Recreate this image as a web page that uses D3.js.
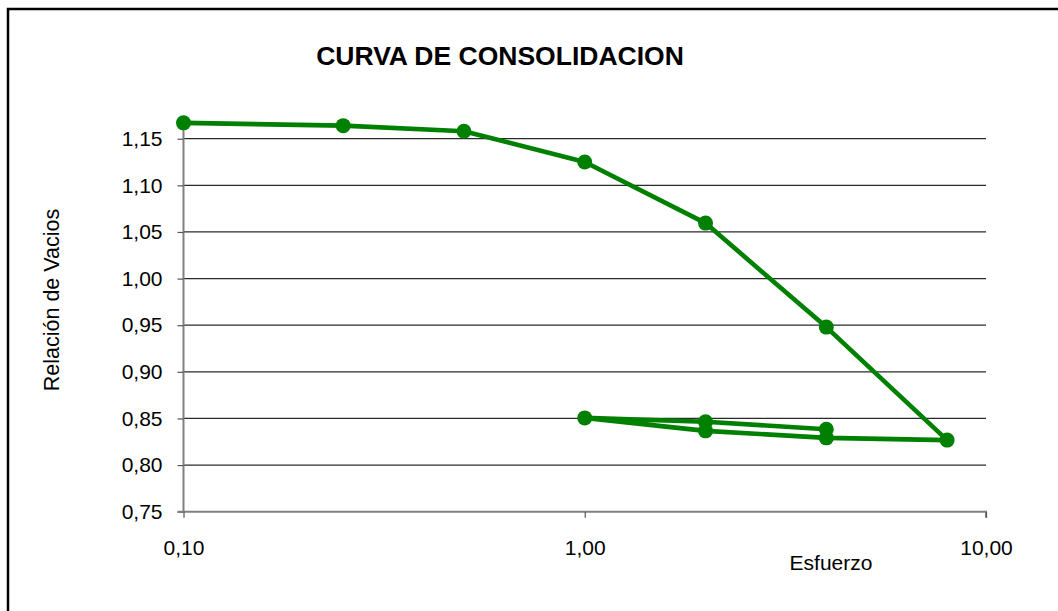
<!DOCTYPE html>
<html>
<head>
<meta charset="utf-8">
<script src="https://cdn.jsdelivr.net/npm/d3@7"></script>
<style>
  html, body { margin: 0; padding: 0; background: #fff; }
  svg { display: block; }
  text { font-family: "Liberation Sans", Arial, sans-serif; fill: #000; }
</style>
</head>
<body>
<svg id="chart" width="1058" height="611"></svg>
<script>
// Consolidation test: applied stress (log scale) vs. void ratio.
// Loading 0.1 → 8, then unloading 8 → 1 and reloading 1 → 4.
const stress    = [0.10, 0.25, 0.50, 1.00, 2.00, 4.00, 8.00, 4.00, 2.00, 1.00, 2.00, 4.00];
const voidRatio = [1.167, 1.164, 1.158, 1.125, 1.0595, 0.948, 0.8268, 0.8292, 0.8367, 0.8506, 0.8464, 0.8385];

const xTicks = [0.1, 1, 10];
const yTicks = [0.75, 0.80, 0.85, 0.90, 0.95, 1.00, 1.05, 1.10, 1.15];

const titleText = "CURVA DE CONSOLIDACION";
const xTitle = "Esfuerzo";
const yTitle = "Relación de Vacios";

const svg = d3.select("#chart");
const green = "#008000";

const x = d3.scaleLog().domain([0.1, 10]).range([183.5, 986]);
const y = d3.scaleLinear().domain([0.75, 1.20]).range([511.7, 92.1]);

const comma = v => d3.format(".2f")(v).replace(".", ",");

// outer frame (top and left edges)
svg.append("path")
  .attr("d", "M8,611 V9 H1058")
  .attr("fill", "none")
  .attr("stroke", "#000")
  .attr("stroke-width", 2.5);

// title
svg.append("text")
  .attr("x", 500).attr("y", 65)
  .attr("text-anchor", "middle")
  .style("font-weight", "bold")
  .style("font-size", "26.5px")
  .text(titleText);

// horizontal gridlines
svg.append("g")
  .selectAll("line")
  .data(yTicks.filter(v => v > 0.75))
  .join("line")
  .attr("x1", x(0.1)).attr("x2", x(10))
  .attr("y1", d => y(d)).attr("y2", d => y(d))
  .attr("stroke", "#2a2a2a")
  .attr("stroke-width", 1.2);

// y axis
const yAxis = svg.append("g")
  .attr("transform", `translate(${x(0.1)},0)`)
  .call(d3.axisLeft(y).tickValues(yTicks).tickFormat(comma).tickSize(6).tickPadding(15));
yAxis.select(".domain")
  .attr("d", `M0,${y(0.75)}V${y(1.15) - 20}`)
  .attr("stroke", "#808080").attr("stroke-width", 2);
yAxis.selectAll(".tick line").attr("stroke", "#555").attr("stroke-width", 1.2);
yAxis.selectAll(".tick text")
  .style("font-size", "21px")
  .style("font-family", "'Liberation Sans', Arial, sans-serif")
  .attr("fill", "#000");

// x axis
const xAxis = svg.append("g")
  .attr("transform", `translate(0,${y(0.75)})`)
  .call(d3.axisBottom(x).tickValues(xTicks).tickFormat(comma).tickSize(6).tickPadding(22));
xAxis.select(".domain")
  .attr("d", `M${x(0.1) - 6},0H${x(10)}V6`)
  .attr("stroke", "#808080").attr("stroke-width", 2);
xAxis.selectAll(".tick line").attr("stroke", "#555").attr("stroke-width", 1.2);
xAxis.selectAll(".tick text")
  .style("font-size", "21px")
  .style("font-family", "'Liberation Sans', Arial, sans-serif")
  .attr("fill", "#000");

// axis titles
svg.append("text")
  .attr("x", 831).attr("y", 570)
  .attr("text-anchor", "middle")
  .style("font-size", "21px")
  .text(xTitle);

svg.append("text")
  .attr("transform", "translate(59,300) rotate(-90)")
  .attr("text-anchor", "middle")
  .style("font-size", "21.5px")
  .text(yTitle);

// consolidation curve
const pts = stress.map((s, i) => [s, voidRatio[i]]);
svg.append("path")
  .datum(pts)
  .attr("fill", "none")
  .attr("stroke", green)
  .attr("stroke-width", 4.6)
  .attr("stroke-linejoin", "round")
  .attr("d", d3.line().x(d => x(d[0])).y(d => y(d[1])));

svg.append("g")
  .selectAll("circle")
  .data(pts)
  .join("circle")
  .attr("cx", d => x(d[0]))
  .attr("cy", d => y(d[1]))
  .attr("r", 7.5)
  .attr("fill", green);
</script>
</body>
</html>
